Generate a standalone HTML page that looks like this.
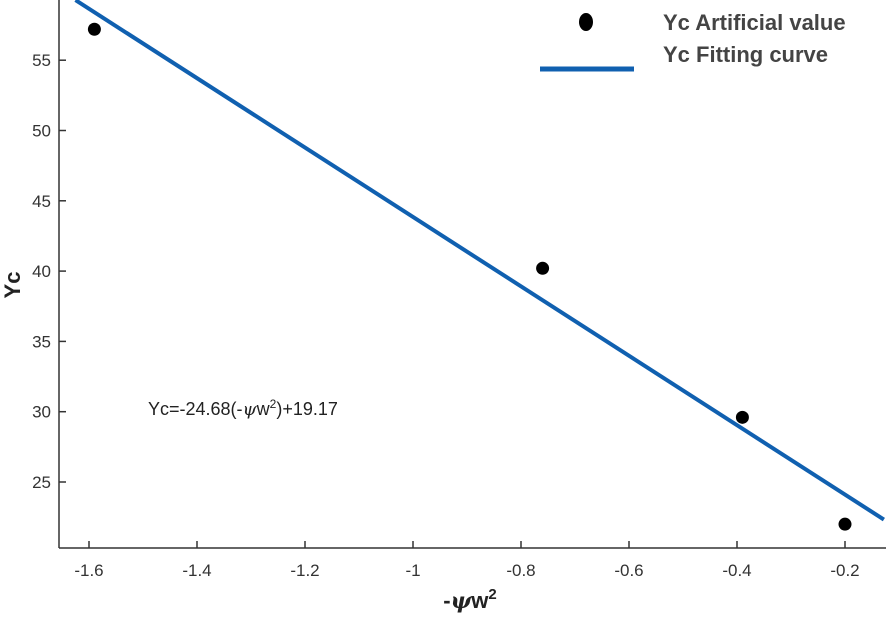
<!DOCTYPE html>
<html><head><meta charset="utf-8"><style>
body{margin:0;background:#fff;width:886px;height:614px;overflow:hidden}
text{font-family:"Liberation Sans",Arial,sans-serif}
</style></head><body>
<svg id="chart" width="886" height="614" viewBox="0 0 886 614">
<g id="axes"></g>
<g id="marks"></g>
<text x="148" y="415" font-size="18" fill="#222">Yc=-24.68(-<tspan font-style="italic" font-family="DejaVu Serif">ψ</tspan>w<tspan dy="-7" font-size="12">2</tspan><tspan dy="7">)+19.17</tspan></text>
<text transform="translate(20,285) rotate(-90)" text-anchor="middle" font-size="22" font-weight="bold" fill="#222">Yc</text>
<text x="470" y="608" text-anchor="middle" font-size="22" font-weight="bold" fill="#222">-<tspan font-style="italic" font-family="DejaVu Serif">ψ</tspan>w<tspan dy="-9" font-size="15">2</tspan></text>
<g>
<ellipse cx="586" cy="22" rx="7" ry="9" fill="#000"/>
<text x="663" y="30" font-size="22" font-weight="bold" fill="#444">Yc Artificial value</text>
<line x1="540" y1="69" x2="634" y2="69" stroke="#1060b0" stroke-width="5"/>
<text x="663" y="62" font-size="22" font-weight="bold" fill="#444">Yc Fitting curve</text>
</g>
</svg>
<script>
const xTicks=[-1.6,-1.4,-1.2,-1,-0.8,-0.6,-0.4,-0.2];
const xTickLabels=["-1.6","-1.4","-1.2","-1","-0.8","-0.6","-0.4","-0.2"];
const yTicks=[25,30,35,40,45,50,55];
const yTickLabels=["25","30","35","40","45","50","55"];
const pointX=[-1.59,-0.76,-0.39,-0.2];
const pointY=[57.2,40.2,29.6,22.0];
const fitSlope=-24.68, fitIntercept=19.17;
const fitRange=[-1.625,-0.128];
const NS="http://www.w3.org/2000/svg";
const X0=59,Y0=548;
function sx(v){return 89+(v+1.6)*540;}
function sy(v){return 482-(v-25)*14.06;}
const axes=document.getElementById('axes'),marks=document.getElementById('marks');
function mk(tag,attrs,parent){const e=document.createElementNS(NS,tag);for(const k in attrs)e.setAttribute(k,attrs[k]);parent.appendChild(e);return e;}
let l=mk('line',{x1:X0,y1:0,x2:X0,y2:Y0,stroke:'#333','stroke-width':1.5},axes);


l=mk('line',{x1:X0,y1:Y0,x2:886,y2:Y0,stroke:'#333','stroke-width':1.5},axes);


xTicks.forEach((t,i)=>{
  const x=sx(t);
  const tk=mk('line',{x1:x,y1:Y0,x2:x,y2:Y0-7,stroke:'#333','stroke-width':1.5},axes);
  
  
  const tx=mk('text',{x:x,y:Y0+28,'text-anchor':'middle','font-size':17,fill:'#333'},axes);
  tx.textContent=xTickLabels[i];
  
  
});
yTicks.forEach((t,i)=>{
  const y=sy(t);
  const tk=mk('line',{x1:X0,y1:y,x2:X0+7,y2:y,stroke:'#333','stroke-width':1.5},axes);
  
  
  const tx=mk('text',{x:X0-8,y:y+6,'text-anchor':'end','font-size':17,fill:'#333'},axes);
  tx.textContent=yTickLabels[i];
  
  
});
const fl=mk('line',{x1:sx(fitRange[0]),y1:sy(fitSlope*fitRange[0]+fitIntercept),x2:sx(fitRange[1]),y2:sy(fitSlope*fitRange[1]+fitIntercept),stroke:'#1060b0','stroke-width':4},marks);


pointX.forEach((v,i)=>{
  const c=mk('circle',{cx:sx(v),cy:sy(pointY[i]),r:6.5,fill:'#000'},marks);
  
  
});
</script>
</body></html>
